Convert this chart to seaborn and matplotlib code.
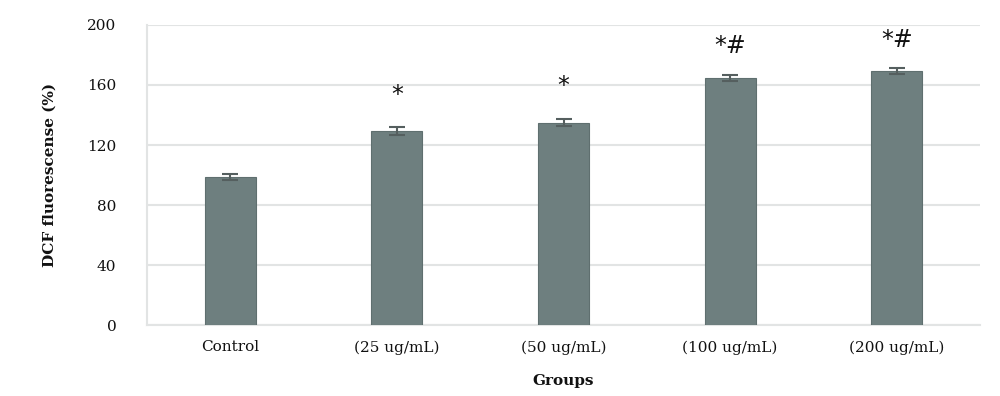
"""
DCF fluorescence by treatment group, bar chart with error bars
"""

import matplotlib
matplotlib.use("Agg")
import matplotlib.pyplot as plt
import seaborn as sns
import pandas as pd

groups = ["Control", "(25 ug/mL)", "(50 ug/mL)", "(100 ug/mL)", "(200 ug/mL)"]
means = [99, 129.5, 135, 164.5, 169.5]
errors = [2, 2.5, 2.5, 2, 2]
marks = ["", "*", "*", "*#", "*#"]
mark_y = [150, 153, 159, 186, 190]

df = pd.DataFrame({"Group": groups, "Value": means})

sns.set_style("white")
plt.rcParams["font.family"] = ["DejaVu Serif"]

fig = plt.figure(figsize=(10, 3.96), dpi=100)
ax = fig.add_axes([0.147, 0.179, 0.833, 0.758])

sns.barplot(data=df, x="Group", y="Value", color="#6e7f7f", width=0.305,
            saturation=1, edgecolor="#5f6f6f", linewidth=0.8, ax=ax, zorder=3)
ax.errorbar(range(len(groups)), means, yerr=errors, fmt="none",
            ecolor="#555f5f", elinewidth=1.5, capsize=6, capthick=1.5, zorder=4)

for i, (m, y) in enumerate(zip(marks, mark_y)):
    if m:
        ax.text(i, y, m, ha="center", va="center", fontsize=17,
                family="DejaVu Sans", color="#111111")

ax.set_ylim(0, 200)
ax.set_xlim(-0.5, len(groups) - 0.5)
ax.set_yticks([0, 40, 80, 120, 160, 200])
ax.yaxis.grid(True, color="#e2e4e4", linewidth=1.5, zorder=0)
ax.set_axisbelow(True)
for s in ["top", "right"]:
    ax.spines[s].set_visible(False)
for s in ["left", "bottom"]:
    ax.spines[s].set_color("#e2e4e4")
    ax.spines[s].set_linewidth(1.5)
ax.tick_params(axis="y", length=0, pad=22, labelsize=11, labelcolor="#111111")
ax.tick_params(axis="x", length=0, pad=11, labelsize=11, labelcolor="#111111")
ax.set_xlabel("Groups", fontsize=11, fontweight="bold", labelpad=14, color="#111111")
ax.set_ylabel("DCF fluorescense (%)", fontsize=11, fontweight="bold", labelpad=22,
              color="#111111")

fig.savefig("out.png", dpi=100)
